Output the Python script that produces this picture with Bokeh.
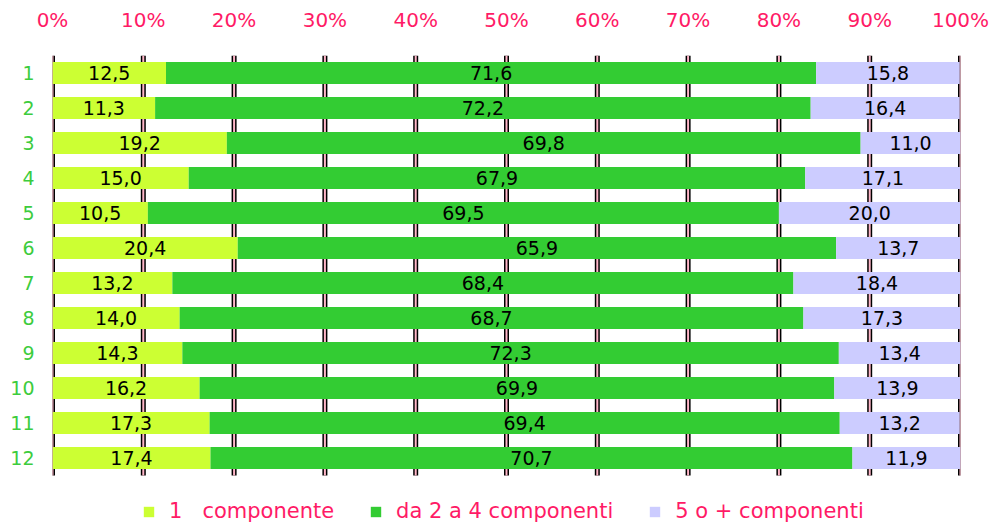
from bokeh.plotting import figure
from bokeh.models import (ColumnDataSource, Range1d, FixedTicker,
                          Legend, LegendItem, CustomJSTickFormatter)
from bokeh.embed import file_html
from bokeh.resources import INLINE
from bokeh.core.properties import value

categories = ["1", "2", "3", "4", "5", "6", "7", "8", "9", "10", "11", "12"]
one_comp = [12.5, 11.3, 19.2, 15.0, 10.5, 20.4, 13.2, 14.0, 14.3, 16.2, 17.3, 17.4]
two_four = [71.6, 72.2, 69.8, 67.9, 69.5, 65.9, 68.4, 68.7, 72.3, 69.9, 69.4, 70.7]
five_plus = [15.8, 16.4, 11.0, 17.1, 20.0, 13.7, 18.4, 17.3, 13.4, 13.9, 13.2, 11.9]
series_names = ["1\u00a0\u00a0\u00a0componente", "da 2 a 4 componenti", "5 o + componenti"]
tick_values = [0, 10, 20, 30, 40, 50, 60, 70, 80, 90, 100]

colors = ["#CCFF33", "#33CC33", "#CCCCFF"]
PINK = "#FF1A66"
GREEN_TXT = "#3DCC3D"
FONT = "DejaVu Sans"

n = len(categories)
rows = list(range(1, n + 1))          # row positions (1 at top)
series = [one_comp, two_four, five_plus]

p = figure(width=996, height=523, output_backend="svg", toolbar_location=None,
           y_range=Range1d(start=n + 1.871, end=0.5),
           x_range=Range1d(0, 100), x_axis_location="above",
           min_border_left=52, min_border_right=36, min_border_top=55, min_border_bottom=0)
p.outline_line_color = None
p.background_fill_color = "white"
p.border_fill_color = "white"
p.xgrid.grid_line_color = None
p.ygrid.grid_line_color = None

# vertical grid lines (black with pink core), spanning the rows only
gsrc = ColumnDataSource(dict(x=tick_values,
                             y0=[rows[0] - 0.5] * len(tick_values),
                             y1=[rows[-1] + 0.5] * len(tick_values)))
p.segment(x0="x", x1="x", y0="y0", y1="y1", source=gsrc, line_color="black", line_width=5)
p.segment(x0="x", x1="x", y0="y0", y1="y1", source=gsrc, line_color="#FFB6C8", line_width=2)

renderers = []
for k, s in enumerate(series):
    left = [sum(series[j][i] for j in range(k)) for i in range(n)]
    right = [left[i] + s[i] for i in range(n)]
    src = ColumnDataSource(dict(
        y=rows, left=left, right=right,
        mid=[(left[i] + right[i]) / 2 for i in range(n)],
        lab=[("%.1f" % v).replace(".", ",") for v in s],
    ))
    r = p.hbar(y="y", left="left", right="right", height=0.63, source=src,
               fill_color=colors[k], line_color=None)
    renderers.append(r)
    p.text(x="mid", y="y", text="lab", source=src, text_align="center",
           text_baseline="middle", text_color="black", text_font=value(FONT),
           text_font_size="19px")

xa = p.xaxis[0]
xa.ticker = FixedTicker(ticks=tick_values)
xa.formatter = CustomJSTickFormatter(code="return tick + '%';")
xa.axis_line_color = None
xa.major_tick_line_color = None
xa.minor_tick_line_color = None
xa.major_label_text_color = PINK
xa.major_label_text_font = FONT
xa.major_label_text_font_size = "20px"
xa.major_label_standoff = 18

ya = p.yaxis[0]
ya.ticker = FixedTicker(ticks=rows)
ya.formatter = CustomJSTickFormatter(args=dict(labels=categories),
                                     code="return labels[Math.round(tick) - 1];")
ya.axis_line_color = None
ya.major_tick_line_color = None
ya.minor_tick_line_color = None
ya.major_label_text_color = GREEN_TXT
ya.major_label_text_font = FONT
ya.major_label_text_font_size = "19px"
ya.major_label_standoff = 12

legend = Legend(items=[LegendItem(label=series_names[k], renderers=[renderers[k]]) for k in range(3)],
                orientation="horizontal", location=(90, 0),
                label_text_color=PINK, label_text_font=FONT, label_text_font_size="21px",
                glyph_width=13, glyph_height=13, label_standoff=14, spacing=35,
                padding=0, margin=0, border_line_color=None, background_fill_alpha=0)
p.add_layout(legend, "center")

open("out.html", "w").write(file_html(p, INLINE))
